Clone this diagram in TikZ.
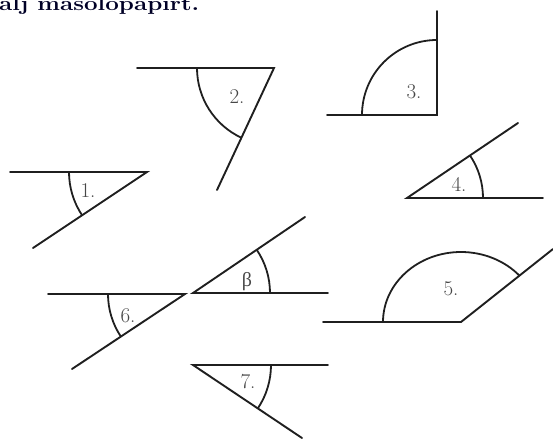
\documentclass[tikz,border=0pt]{standalone}
\usepackage{fontspec}
\newfontfamily\grk{Liberation Serif}
\usetikzlibrary{calc}
\begin{document}
\begin{tikzpicture}[x=1pt,y=-1pt,
  ray/.style={line width=1.9pt,draw=black!88,line cap=round},
  arcline/.style={line width=1.8pt,draw=black!88},
  lbl/.style={font=\fontsize{21}{21}\selectfont,text=black!72,inner sep=0pt},
  heading/.style={font=\fontsize{20}{20}\selectfont\bfseries,text=black!85!blue,inner sep=0pt,anchor=base west}]
\useasboundingbox (0,0) rectangle (553,439);
\clip (0,0) rectangle (553,439);
% heading (cut off at the top, as in the reference)
\node[heading] (head) at (-1,10) {\scalebox{1.21}[1]{alj másolópapírt.}};
% angle 1
\coordinate (v1) at (147,172); \coordinate (h1) at (10,172); \coordinate (r1) at (33,248);
\draw[ray] (h1) -- (v1) -- (r1);
\draw[arcline] ($(v1)+(146.3:78)$) arc[start angle=146.3,end angle=180,radius=78];
\node[lbl] (l1) at (88,191) {1.};
% angle 2
\coordinate (v2) at (274,68); \coordinate (h2) at (137,68); \coordinate (r2) at (217,190);
\draw[ray] (h2) -- (v2) -- (r2);
\draw[arcline] ($(v2)+(115:77)$) arc[start angle=115,end angle=180,radius=77];
\node[lbl] (l2) at (237,97) {2.};
% angle 3
\coordinate (v3) at (437,115); \coordinate (h3) at (327,115); \coordinate (r3) at (437,11);
\draw[ray] (h3) -- (v3) -- (r3);
\draw[arcline] ($(v3)+(180:75)$) arc[start angle=180,end angle=270,radius=75];
\node[lbl] (l3) at (414,92) {3.};
% angle 4
\coordinate (v4) at (407,198); \coordinate (h4) at (543,198); \coordinate (r4) at (518,123);
\draw[ray] (h4) -- (v4) -- (r4);
\draw[arcline] ($(v4)+(0:76)$) arc[start angle=0,end angle=-34,radius=76];
\node[lbl] (l4) at (459,184) {4.};
% angle beta
\coordinate (vb) at (193,293); \coordinate (hb) at (328,293); \coordinate (rb) at (305,217);
\draw[ray] (hb) -- (vb) -- (rb);
\draw[arcline] ($(vb)+(0:77)$) arc[start angle=0,end angle=-34.2,radius=77];
\node[lbl] (lb) at (247,282) {\grk\fontsize{20}{20}\selectfont β};
% angle 5
\coordinate (v5) at (461,322); \coordinate (h5) at (323,322); \coordinate (r5) at (553,249);
\draw[ray] (h5) -- (v5) -- (r5);
\draw[arcline] ($(v5)+(-78,0)$) arc[start angle=180,end angle=318.5,x radius=78,y radius=70];
\node[lbl] (l5) at (451,289) {5.};
% angle 6
\coordinate (v6) at (185,294); \coordinate (h6) at (48,294); \coordinate (r6) at (72,369);
\draw[ray] (h6) -- (v6) -- (r6);
\draw[arcline] ($(v6)+(146.4:77)$) arc[start angle=146.4,end angle=180,radius=77];
\node[lbl] (l6) at (128,316) {6.};
% angle 7
\coordinate (v7) at (193,365); \coordinate (h7) at (328,365); \coordinate (r7) at (302,438);
\draw[ray] (h7) -- (v7) -- (r7);
\draw[arcline] ($(v7)+(0:78)$) arc[start angle=0,end angle=33.8,radius=78];
\node[lbl] (l7) at (248,382) {7.};
\end{tikzpicture}
\end{document}
